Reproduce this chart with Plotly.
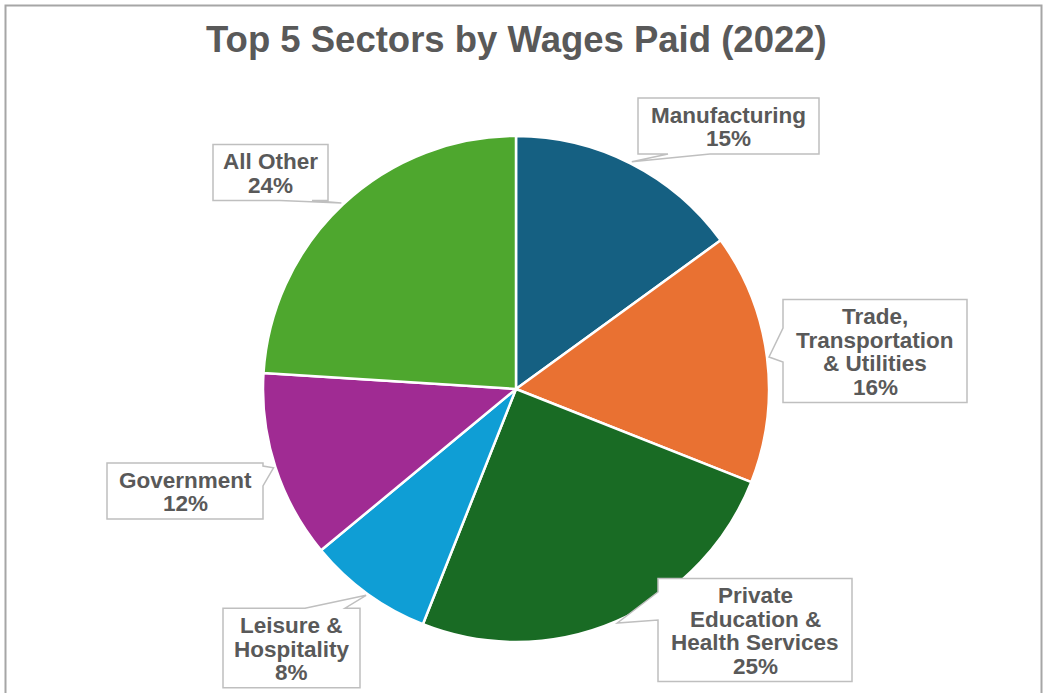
import math
import plotly.graph_objects as go

# ---- data -------------------------------------------------------------
sectors = [
    "Manufacturing",
    "Trade, Transportation & Utilities",
    "Private Education & Health Services",
    "Leisure & Hospitality",
    "Government",
    "All Other",
]
label_lines = [
    ["Manufacturing"],
    ["Trade,", "Transportation", "& Utilities"],
    ["Private", "Education &", "Health Services"],
    ["Leisure &", "Hospitality"],
    ["Government"],
    ["All Other"],
]
wage_share = [15, 16, 25, 8, 12, 24]
colors = ["#156082", "#E97132", "#196B24", "#0F9ED5", "#A02B93", "#4EA72E"]

# ---- layout constants (pixels) ---------------------------------------
W, H = 1043, 693
CX, CY, R = 516, 389, 253
TEXT_GRAY = "#595959"
FONT = "Liberation Sans, Arial, Helvetica, sans-serif"
LINE_PITCH = 23.5

# callout boxes: centre x, centre y, width, side of the pointer, pointer base span
callouts = [
    dict(cx=728.5, cy=126, w=181, side="bottom", base=(668, 710)),
    dict(cx=875, cy=351, w=184, side="left", base=(328, 362)),
    dict(cx=755, cy=630, w=194, side="left", base=(592, 620)),
    dict(cx=291.5, cy=648, w=137, side="top", base=(305, 345)),
    dict(cx=185, cy=491, w=156, side="right", base=(466, 486)),
    dict(cx=270.5, cy=172.5, w=115, side="bottom", base=(280, 312)),
]

total = sum(wage_share)

fig = go.Figure()

# hidden pixel-space axes for callouts
fig.add_trace(go.Scatter(x=[0, W], y=[0, H], mode="markers",
                         marker=dict(opacity=0), hoverinfo="skip", showlegend=False))

fig.add_trace(go.Pie(
    labels=sectors,
    values=wage_share,
    sort=False,
    direction="clockwise",
    rotation=0,
    textinfo="none",
    marker=dict(colors=colors, line=dict(color="white", width=2.5)),
    domain=dict(x=[(CX - R) / W, (CX + R) / W], y=[1 - (CY + R) / H, 1 - (CY - R) / H]),
    showlegend=False,
))


def callout_path(box, tip):
    x0, x1 = box["cx"] - box["w"] / 2, box["cx"] + box["w"] / 2
    y0, y1 = box["cy"] - box["h"] / 2, box["cy"] + box["h"] / 2
    b0, b1 = box["base"]
    tx, ty = tip
    pts = [(x0, y0)]
    if box["side"] == "top":
        pts += [(b0, y0), (tx, ty), (b1, y0)]
    pts.append((x1, y0))
    if box["side"] == "right":
        pts += [(x1, b0), (tx, ty), (x1, b1)]
    pts.append((x1, y1))
    if box["side"] == "bottom":
        pts += [(b1, y1), (tx, ty), (b0, y1)]
    pts.append((x0, y1))
    if box["side"] == "left":
        pts += [(x0, b1), (tx, ty), (x0, b0)]
    return "M " + " L ".join(f"{x:.1f},{y:.1f}" for x, y in pts) + " Z"


shapes = []
annotations = []
cum = 0
for name_lines, value, box in zip(label_lines, wage_share, callouts):
    mid = (cum + value / 2) / total * 2 * math.pi
    cum += value
    tip = (CX + (R + 2) * math.sin(mid), CY - (R + 2) * math.cos(mid))
    lines = name_lines + [f"{round(value / total * 100)}%"]
    n = len(lines)
    box = dict(box, h=n * LINE_PITCH + 9)
    shapes.append(dict(type="path", path=callout_path(box, tip), xref="x", yref="y",
                       fillcolor="white", line=dict(color="#bfbfbf", width=1.5),
                       layer="above"))
    for i, line in enumerate(lines):
        annotations.append(dict(
            x=box["cx"], y=box["cy"] + (i - (n - 1) / 2) * LINE_PITCH + 1,
            xref="x", yref="y", text=f"<b>{line}</b>", showarrow=False,
            xanchor="center", yanchor="middle",
            font=dict(family=FONT, size=22.5, color=TEXT_GRAY),
        ))

# outer chart border
shapes.append(dict(type="rect", xref="x", yref="y", x0=5.5, x1=1041.5, y0=5.5, y1=H + 20,
                   line=dict(color="#a6a6a6", width=2), fillcolor="rgba(0,0,0,0)",
                   layer="above"))

annotations.append(dict(
    x=516, y=39, xref="x", yref="y", showarrow=False,
    text="<b>Top 5 Sectors by Wages Paid (2022)</b>",
    xanchor="center", yanchor="middle",
    font=dict(family=FONT, size=36.5, color=TEXT_GRAY),
))

fig.update_layout(
    width=W, height=H,
    margin=dict(l=0, r=0, t=0, b=0),
    paper_bgcolor="white", plot_bgcolor="white",
    xaxis=dict(range=[0, W], visible=False, domain=[0, 1], fixedrange=True),
    yaxis=dict(range=[H, 0], visible=False, domain=[0, 1], fixedrange=True),
    shapes=shapes,
    annotations=annotations,
    showlegend=False,
)

fig.write_html("out.html")
